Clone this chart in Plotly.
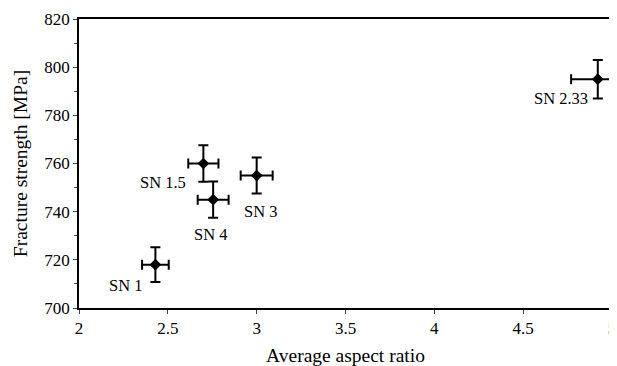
import plotly.graph_objects as go

labels = ["SN 1", "SN 1.5", "SN 4", "SN 3", "SN 2.33"]
aspect = [2.43, 2.70, 2.755, 3.00, 4.92]
aspect_err = [0.075, 0.085, 0.087, 0.09, 0.15]
strength = [718, 760, 745, 755, 795]
strength_err = [7.2, 7.6, 7.5, 7.5, 8.0]

# label pixel offsets (layout only)
label_off = [(-30, 21), (-40, 19), (-3, 35), (4, 36), (-37, 19)]

FONT = "Liberation Serif"

fig = go.Figure()
fig.add_trace(go.Scatter(
    x=aspect, y=strength, mode="markers",
    marker=dict(symbol="diamond", size=9, color="black"),
    error_x=dict(type="data", array=aspect_err, color="black", thickness=2, width=5),
    error_y=dict(type="data", array=strength_err, color="black", thickness=2, width=5),
    showlegend=False, cliponaxis=True,
))

for lab, x, y, (dx, dy) in zip(labels, aspect, strength, label_off):
    fig.add_annotation(x=x, y=y, text=lab, showarrow=True, arrowcolor="rgba(0,0,0,0)",
                       ax=dx, ay=dy, font=dict(family=FONT, size=16.5, color="black"))

axis_common = dict(showline=True, linecolor="black", linewidth=1.5, mirror=True,
                   showgrid=False, zeroline=False, ticks="outside", ticklen=4,
                   tickcolor="#444", tickwidth=1, automargin=False,
                   tickfont=dict(family=FONT, size=17, color="black"))

fig.update_xaxes(range=[2, 5], dtick=0.5, tick0=2,
                 title=dict(text="Average aspect ratio", standoff=11,
                            font=dict(family=FONT, size=19.5, color="black")),
                 **axis_common)
fig.update_yaxes(range=[700, 820], dtick=20, tick0=700,
                 minor=dict(dtick=10, ticks="outside", ticklen=3, tickcolor="#444"),
                 title=dict(text="Fracture strength [MPa]", standoff=12,
                            font=dict(family=FONT, size=19.5, color="black")),
                 **axis_common)

# page body has an 8px margin, so the figure is sized/offset to compensate
fig.update_layout(width=609, height=358, margin=dict(l=71, r=5, t=11, b=58),
                  plot_bgcolor="white", paper_bgcolor="white",
                  font=dict(family=FONT, color="black"))

fig.write_html("out.html")
